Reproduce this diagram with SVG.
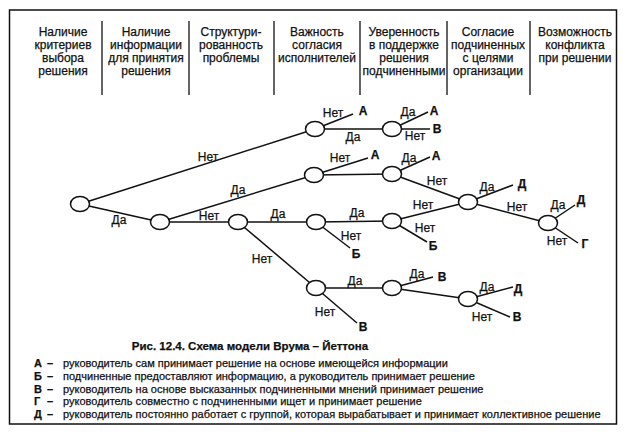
<svg xmlns="http://www.w3.org/2000/svg" width="628" height="436" viewBox="0 0 628 436">
<style>
text{stroke:#111;stroke-width:0.25}
.hd{font-family:"Liberation Sans",Arial,sans-serif;font-size:12px;fill:#111;text-anchor:middle}
.lb{font-family:"Liberation Sans",Arial,sans-serif;font-size:12px;fill:#111;text-anchor:middle}
.tm{font-family:"Liberation Sans",Arial,sans-serif;font-size:12px;font-weight:bold;fill:#111;text-anchor:middle}
.cap{font-family:"Liberation Sans",Arial,sans-serif;font-size:11.5px;font-weight:bold;fill:#111;text-anchor:middle}
.lg{font-family:"Liberation Sans",Arial,sans-serif;font-size:11px;fill:#111}
.lgb{font-family:"Liberation Sans",Arial,sans-serif;font-size:11px;font-weight:bold;fill:#111}
.e line{stroke:#111;stroke-width:1.5}
.n ellipse{fill:#fff;stroke:#111;stroke-width:1.5}
.div{stroke:#111;stroke-width:1.3}
</style>
<rect x="9.5" y="10" width="607" height="414" fill="#fff" stroke="#111" stroke-width="1.5"/>
<g id="header">
<line class="div" x1="102" y1="21" x2="102" y2="95"/>
<line class="div" x1="189" y1="21" x2="189" y2="95"/>
<line class="div" x1="274" y1="21" x2="274" y2="95"/>
<line class="div" x1="360" y1="21" x2="360" y2="95"/>
<line class="div" x1="447" y1="21" x2="447" y2="95"/>
<line class="div" x1="530" y1="21" x2="530" y2="95"/>
<text class="hd" x="63" y="36">Наличие</text>
<text class="hd" x="63" y="49">критериев</text>
<text class="hd" x="63" y="62">выбора</text>
<text class="hd" x="63" y="75">решения</text>
<text class="hd" x="146" y="36">Наличие</text>
<text class="hd" x="146" y="49">информации</text>
<text class="hd" x="146" y="62">для принятия</text>
<text class="hd" x="146" y="75">решения</text>
<text class="hd" x="231" y="36">Структури-</text>
<text class="hd" x="231" y="49">рованность</text>
<text class="hd" x="231" y="62">проблемы</text>
<text class="hd" x="317" y="36">Важность</text>
<text class="hd" x="317" y="49">согласия</text>
<text class="hd" x="317" y="62">исполнителей</text>
<text class="hd" x="404" y="36">Уверенность</text>
<text class="hd" x="404" y="49">в поддержке</text>
<text class="hd" x="404" y="62">решения</text>
<text class="hd" x="404" y="75">подчиненными</text>
<text class="hd" x="488" y="36">Согласие</text>
<text class="hd" x="488" y="49">подчиненных</text>
<text class="hd" x="488" y="62">с целями</text>
<text class="hd" x="488" y="75">организации</text>
<text class="hd" x="575" y="36">Возможность</text>
<text class="hd" x="575" y="49">конфликта</text>
<text class="hd" x="575" y="62">при решении</text>
</g>
<g id="connectors" class="e">
<line x1="80" y1="204" x2="315" y2="129"/>
<line x1="80" y1="204" x2="160" y2="222"/>
<line x1="160" y1="222" x2="314" y2="175"/>
<line x1="160" y1="222" x2="238" y2="222"/>
<line x1="238" y1="222" x2="316" y2="222"/>
<line x1="238" y1="222" x2="316" y2="288"/>
<line x1="315" y1="129" x2="353" y2="114"/>
<line x1="315" y1="129" x2="392" y2="129"/>
<line x1="392" y1="129" x2="428" y2="112"/>
<line x1="392" y1="129" x2="430" y2="129"/>
<line x1="314" y1="175" x2="368" y2="158"/>
<line x1="314" y1="175" x2="392" y2="174"/>
<line x1="392" y1="174" x2="430" y2="157"/>
<line x1="392" y1="174" x2="468" y2="202"/>
<line x1="316" y1="222" x2="392" y2="221"/>
<line x1="316" y1="222" x2="350" y2="248"/>
<line x1="392" y1="221" x2="468" y2="202"/>
<line x1="392" y1="221" x2="427" y2="242"/>
<line x1="468" y1="202" x2="513" y2="185"/>
<line x1="468" y1="202" x2="548" y2="223"/>
<line x1="548" y1="223" x2="575" y2="205"/>
<line x1="548" y1="223" x2="578" y2="243"/>
<line x1="316" y1="288" x2="357" y2="323"/>
<line x1="316" y1="288" x2="392" y2="288"/>
<line x1="392" y1="288" x2="433" y2="277"/>
<line x1="392" y1="288" x2="468" y2="299"/>
<line x1="468" y1="299" x2="513" y2="287"/>
<line x1="468" y1="299" x2="510" y2="317"/>
</g>
<g id="edge-labels">
<text class="lb" x="208" y="161">Нет</text>
<text class="lb" x="119" y="224">Да</text>
<text class="lb" x="238" y="194">Да</text>
<text class="lb" x="209" y="220">Нет</text>
<text class="lb" x="278" y="218">Да</text>
<text class="lb" x="262" y="263">Нет</text>
<text class="lb" x="333" y="117">Нет</text>
<text class="lb" x="353" y="141">Да</text>
<text class="lb" x="408" y="116">Да</text>
<text class="lb" x="415" y="140">Нет</text>
<text class="lb" x="340" y="162">Нет</text>
<text class="lb" x="409" y="162">Да</text>
<text class="lb" x="437" y="185">Нет</text>
<text class="lb" x="357" y="217">Да</text>
<text class="lb" x="351" y="240">Нет</text>
<text class="lb" x="423" y="209">Нет</text>
<text class="lb" x="425" y="232">Нет</text>
<text class="lb" x="487" y="191">Да</text>
<text class="lb" x="517" y="211">Нет</text>
<text class="lb" x="558" y="209">Да</text>
<text class="lb" x="557" y="245">Нет</text>
<text class="lb" x="325" y="316">Нет</text>
<text class="lb" x="355" y="285">Да</text>
<text class="lb" x="417" y="278">Да</text>
<text class="lb" x="487" y="291">Да</text>
<text class="lb" x="482" y="321">Нет</text>
</g>
<g id="terminals">
<text class="tm" x="363" y="115">А</text>
<text class="tm" x="434" y="115">А</text>
<text class="tm" x="437" y="133">В</text>
<text class="tm" x="375" y="159">А</text>
<text class="tm" x="436" y="160">А</text>
<text class="tm" x="356" y="258">Б</text>
<text class="tm" x="433" y="250">Б</text>
<text class="tm" x="522" y="188">Д</text>
<text class="tm" x="581" y="204">Д</text>
<text class="tm" x="585" y="248">Г</text>
<text class="tm" x="363" y="331">В</text>
<text class="tm" x="442" y="281">В</text>
<text class="tm" x="518" y="293">Д</text>
<text class="tm" x="517" y="321">В</text>
</g>
<g id="n0" class="n"><ellipse cx="80" cy="204" rx="9.5" ry="7.5"/></g>
<g id="n1" class="n"><ellipse cx="160" cy="222" rx="9.5" ry="7.5"/></g>
<g id="n2" class="n"><ellipse cx="315" cy="129" rx="9.5" ry="7.5"/></g>
<g id="n3" class="n"><ellipse cx="392" cy="129" rx="9.5" ry="7.5"/></g>
<g id="n4" class="n"><ellipse cx="314" cy="175" rx="9.5" ry="7.5"/></g>
<g id="n5" class="n"><ellipse cx="392" cy="174" rx="9.5" ry="7.5"/></g>
<g id="n6" class="n"><ellipse cx="238" cy="222" rx="9.5" ry="7.5"/></g>
<g id="n7" class="n"><ellipse cx="316" cy="222" rx="9.5" ry="7.5"/></g>
<g id="n8" class="n"><ellipse cx="392" cy="221" rx="9.5" ry="7.5"/></g>
<g id="n9" class="n"><ellipse cx="468" cy="202" rx="9.5" ry="7.5"/></g>
<g id="n10" class="n"><ellipse cx="548" cy="223" rx="9.5" ry="7.5"/></g>
<g id="n11" class="n"><ellipse cx="316" cy="288" rx="9.5" ry="7.5"/></g>
<g id="n12" class="n"><ellipse cx="392" cy="288" rx="9.5" ry="7.5"/></g>
<g id="n13" class="n"><ellipse cx="468" cy="299" rx="9.5" ry="7.5"/></g>
<g id="caption">
<text class="cap" x="250" y="350">Рис. 12.4. Схема модели Врума  – Йеттона</text>
</g>
<g id="legend">
<text class="lgb" x="34" y="367">А</text><text class="lgb" x="47" y="367">–</text><text class="lg" x="63" y="367">руководитель сам принимает решение  на основе имеющейся информации</text>
<text class="lgb" x="34" y="380">Б</text><text class="lgb" x="47" y="380">–</text><text class="lg" x="63" y="380">подчиненные предоставляют информацию, а руководитель принимает решение</text>
<text class="lgb" x="34" y="393">В</text><text class="lgb" x="47" y="393">–</text><text class="lg" x="63" y="393">руководитель на основе высказанных подчиненными мнений принимает решение</text>
<text class="lgb" x="34" y="405">Г</text><text class="lgb" x="47" y="405">–</text><text class="lg" x="63" y="405">руководитель совместно с подчиненными ищет и принимает решение</text>
<text class="lgb" x="34" y="418">Д</text><text class="lgb" x="47" y="418">–</text><text class="lg" x="63" y="418">руководитель постоянно работает с группой, которая вырабатывает и принимает коллективное решение</text>
</g>
</svg>
